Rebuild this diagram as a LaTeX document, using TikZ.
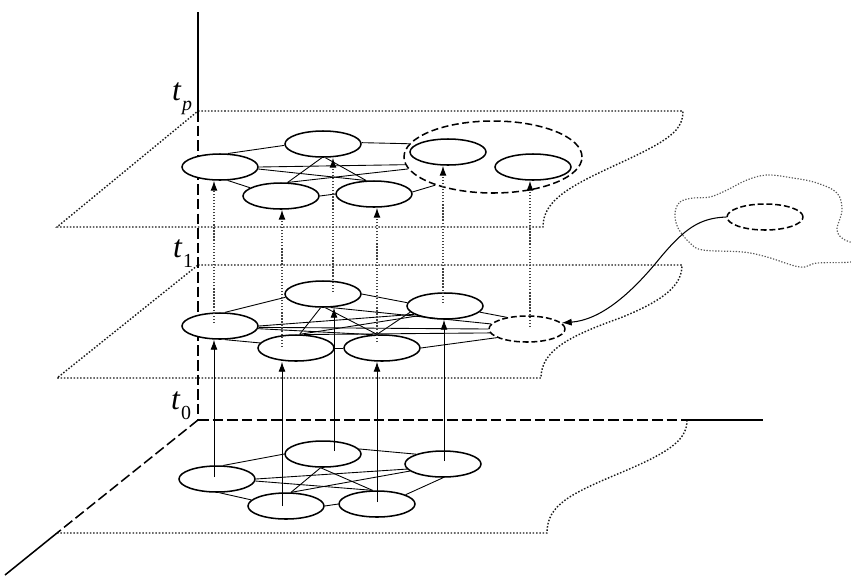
\documentclass[tikz,border=0pt]{standalone}
\usepackage{fontspec}
\newfontfamily\timesf{Liberation Serif}
\usetikzlibrary{shapes.geometric,arrows.meta,calc}
\newcommand{\tsub}[1]{\textit{t}\kern0.5pt\raisebox{-0.32em}{\fontsize{17}{18}\selectfont #1}}
\begin{document}
\begin{tikzpicture}[x=0.03cm,y=-0.03cm,
  ell/.style={ellipse, draw, line width=1.3pt, minimum width=2.28cm, minimum height=0.78cm, inner sep=0pt, fill=white},
  dell/.style={ell, dash pattern=on 5pt off 2.5pt},
  grp/.style={ellipse, draw, line width=1.3pt, dash pattern=on 6pt off 3pt, minimum width=5.34cm, minimum height=2.16cm, inner sep=0pt},
  lnk/.style={line width=0.75pt},
  planeln/.style={line width=1.2pt, black!90, dash pattern=on 1.3pt off 1.5pt},
  axisln/.style={line width=1.3pt},
  daxisln/.style={line width=1.3pt, dash pattern=on 9pt off 3.5pt},
  uparr/.style={line width=0.8pt, -{Latex[length=8.5pt,width=6pt]}},
  duparr/.style={line width=1pt, black!75, dash pattern=on 1.1pt off 1.5pt, -{Latex[length=8.5pt,width=6pt,black]}},
  carr/.style={line width=0.9pt, -{Latex[length=8.5pt,width=6pt]}},
  clouddot/.style={line width=1pt, black!65, dash pattern=on 1.1pt off 1.4pt},
  lab/.style={inner sep=0pt, font=\timesf\fontsize{27}{28}\selectfont}
]
\useasboundingbox (0,0) rectangle (851,576);

% axis coordinates
\coordinate (Top) at (198,12);
\coordinate (Tp) at (198,111);
\coordinate (T1) at (198,265);
\coordinate (O) at (198,420);
\coordinate (Xd) at (687,420);
\coordinate (Xe) at (763,420);
\coordinate (Zd) at (57,533);
\coordinate (Ze) at (5,575);

% planes
\draw[planeln] (Tp) -- (683,111) .. controls (683,130) and (670,140) .. (620,163)
  .. controls (570,186) and (543,200) .. (543,227) -- (57,227) -- cycle;
\draw[planeln] (T1) -- (682,265) .. controls (682,285) and (665,300) .. (620,318)
  .. controls (570,336) and (541,350) .. (541,378) -- (57,378) -- cycle;
\draw[planeln] (Xd) .. controls (687,440) and (670,452) .. (620,473)
  .. controls (570,494) and (547,505) .. (547,533) -- (Zd);

% axes
\draw[axisln] (Top) -- (Tp);
\draw[daxisln] (Tp) -- (O);
\draw[daxisln] (O) -- (Xd);
\draw[axisln] (Xd) -- (Xe);
\draw[daxisln] (O) -- (Zd);
\draw[axisln] (Zd) -- (Ze);

% labels
\node[lab] (tp) at (182,99) {\tsub{\itshape p}};
\node[lab] (t1) at (183,254) {\tsub{1}};
\node[lab] (t0) at (181,406) {\tsub{0}};

% cloud
\draw[clouddot] plot[smooth cycle, tension=0.6] coordinates {
 (675,213) (680,202) (693,198) (710,197) (727,190) (747,180) (767,175) (793,178)
 (817,183) (837,193) (842,210) (837,230) (845,240) (862,246) (866,256) (851,262)
 (817,263) (800,267) (767,257) (743,252) (703,250) (690,243) (678,228)};
\node[dell, fill=none] (H) at (765,217) {};

% top layer
\node[grp] (G) at (493,157) {};
\node[ell] (A) at (220,167) {};
\node[ell] (B) at (323,144) {};
\node[ell] (C) at (281,196) {};
\node[ell] (D) at (374,194) {};
\node[ell] (E) at (448,152) {};
\node[ell] (F) at (533,167) {};

% middle layer
\node[ell] (A1) at (220,326) {};
\node[ell] (B1) at (323,294) {};
\node[ell] (C1) at (296,348) {};
\node[ell] (D1) at (382,348) {};
\node[ell] (E1) at (445,306) {};
\node[dell] (F1) at (527,329) {};

% bottom layer
\node[ell] (A0) at (217,479) {};
\node[ell] (B0) at (323,454) {};
\node[ell] (C0) at (286,506) {};
\node[ell] (D0) at (377,504) {};
\node[ell] (E0) at (443,464) {};

% top edges
\draw[lnk] (A.60) -- (B.182);
\draw[lnk] (B.2) -- (G.171);
\draw[lnk] (A.0) -- (G.185);
\draw[lnk] (A.-3) -- (D.120);
\draw[lnk] (C.64) -- (G.188);
\draw[lnk] (C.64) -- (B.-95);
\draw[lnk] (B.-80) -- (D.120);
\draw[lnk] (A.-60) -- (C.165);
\draw[lnk] (C.0) -- (D.180);
\draw[lnk] (D.3) -- (G.206);

% middle edges
\draw[lnk] (A1.70) -- (B1.185);
\draw[lnk] (B1.0) -- (E1.175);
\draw[lnk] (A1.-70) -- (C1.172);
\draw[lnk] (C1.0) -- (D1.180);
\draw[lnk] (B1.-100) -- (C1.75);
\draw[lnk] (B1.-80) -- (D1.110);
\draw[lnk] (D1.110) -- (E1.190);
\draw[lnk] (C1.75) -- (E1.200);
\draw[lnk] (A1.0) -- (E1.195);
\draw[lnk] (A1.-2) -- (F1.180);
\draw[lnk] (A1.-4) -- (D1.125);
\draw[lnk] (B1.-60) -- (F1.172);
\draw[lnk] (C1.60) -- (F1.186);
\draw[lnk] (D1.0) -- (F1.196);
\draw[lnk] (E1.-10) -- (F1.150);

% bottom edges
\draw[lnk] (A0.65) -- (B0.180);
\draw[lnk] (B0.8) -- (E0.160);
\draw[lnk] (A0.0) -- (E0.188);
\draw[lnk] (A0.-3) -- (D0.108);
\draw[lnk] (C0.70) -- (B0.-100);
\draw[lnk] (B0.-100) -- (D0.108);
\draw[lnk] (C0.70) -- (E0.192);
\draw[lnk] (A0.-80) -- (C0.170);
\draw[lnk] (C0.0) -- (D0.180);
\draw[lnk] (D0.18) -- (E0.-90);

% solid arrows bottom -> middle
\coordinate (sa) at ($(A0.center)+(-3,-2)$);
\coordinate (sc) at ($(C0.center)+(-4,0)$);
\coordinate (sb) at ($(B0.center)+(11,-3)$);
\coordinate (sd) at ($(D0.center)+(0,-2)$);
\coordinate (se) at ($(E0.center)+(1,-3)$);
\draw[uparr] (sa) -- (sa |- A1.south);
\draw[uparr] (sc) -- (sc |- C1.south);
\draw[uparr] (sb) -- (sb |- B1.south);
\draw[uparr] (sd) -- (sd |- D1.south);
\draw[uparr] (se) -- (se |- E1.south);

% dotted arrows middle -> top
\coordinate (ma) at ($(A1.center)+(-6,-3)$);
\coordinate (mc) at ($(C1.center)+(-14,-1)$);
\coordinate (mb) at ($(B1.center)+(10,-2)$);
\coordinate (md) at ($(D1.center)+(-5,-6)$);
\coordinate (me) at ($(E1.center)+(-2,-3)$);
\coordinate (mf) at ($(F1.center)+(3,-2)$);
\draw[duparr] (ma) -- (ma |- A.south);
\draw[duparr] (mc) -- (mc |- C.south);
\draw[duparr] (mb) -- (mb |- B.south);
\draw[duparr] (md) -- (md |- D.south);
\draw[duparr] (me) -- (me |- E.south);
\draw[duparr] (mf) -- (mf |- F.south);

% cloud connector
\draw[carr] (H.west) .. controls (700,218) and (685,228) .. (660,258)
  .. controls (630,295) and (600,320) .. (F1.10);
\end{tikzpicture}
\end{document}
